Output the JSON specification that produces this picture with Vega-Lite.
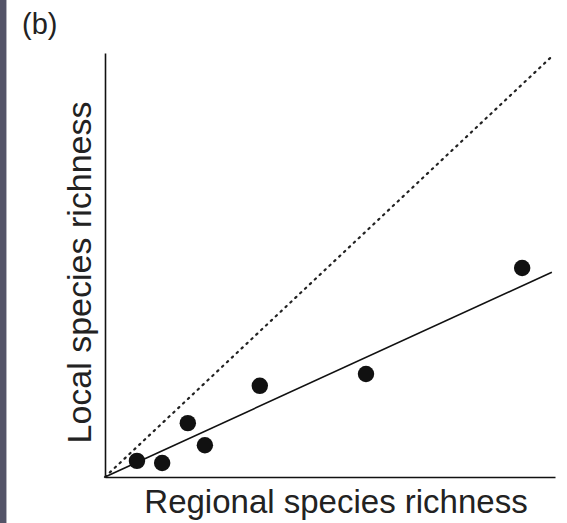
{
  "$schema": "https://vega.github.io/schema/vega-lite/v6.json",
  "width": 450,
  "height": 424,
  "autosize": {"type": "none"},
  "padding": {"left": 105, "top": 53, "right": 12, "bottom": 46},
  "background": "white",
  "title": {"text": "(b)", "anchor": "start", "frame": "group", "dx": -83, "offset": 0, "dy": 69, "baseline": "bottom", "font": "Liberation Sans", "fontSize": 29, "fontWeight": "normal", "color": "#222"},
  "config": {"view": {"stroke": null}},
  "datasets": {
    "points": [
      {"regional": 7.1, "local": 3.8},
      {"regional": 12.7, "local": 3.3},
      {"regional": 18.4, "local": 12.7},
      {"regional": 22.2, "local": 7.5},
      {"regional": 34.4, "local": 21.5},
      {"regional": 58.0, "local": 24.3},
      {"regional": 92.7, "local": 49.3}
    ],
    "oneToOne": [
      {"regional": 0, "local": 0},
      {"regional": 99.7, "local": 99.6}
    ],
    "fit": [
      {"regional": 0, "local": 0},
      {"regional": 99.3, "local": 48.3}
    ],
    "strip": [
      {"x": -23.4, "x2": -21.9, "y": -12, "y2": 112.5}
    ]
  },
  "layer": [
    {
      "data": {"name": "strip"},
      "mark": {"type": "rect", "color": "#545468", "clip": false},
      "encoding": {
        "x": {"field": "x", "type": "quantitative", "scale": {"domain": [0, 100]}},
        "x2": {"field": "x2"},
        "y": {"field": "y", "type": "quantitative", "scale": {"domain": [0, 100]}},
        "y2": {"field": "y2"}
      }
    },
    {
      "data": {"name": "oneToOne"},
      "mark": {"type": "line", "color": "#222", "strokeWidth": 2.2, "strokeDash": [1.5, 5.2], "strokeCap": "round"},
      "encoding": {
        "x": {"field": "regional", "type": "quantitative"},
        "y": {"field": "local", "type": "quantitative"}
      }
    },
    {
      "data": {"name": "fit"},
      "mark": {"type": "line", "color": "#111", "strokeWidth": 1.6},
      "encoding": {
        "x": {"field": "regional", "type": "quantitative"},
        "y": {"field": "local", "type": "quantitative"}
      }
    },
    {
      "data": {"name": "points"},
      "mark": {"type": "circle", "color": "#111", "opacity": 1, "size": 270},
      "encoding": {
        "x": {"field": "regional", "type": "quantitative", "scale": {"domain": [0, 100]},
          "axis": {"title": "Regional species richness", "labels": false, "ticks": false, "grid": false, "domainColor": "#111", "domainWidth": 1.6, "titleFont": "Liberation Sans", "titleFontSize": 33, "titleFontWeight": "normal", "titleColor": "#222", "titlePadding": 9, "titleX": 230.5}},
        "y": {"field": "local", "type": "quantitative", "scale": {"domain": [0, 100]},
          "axis": {"title": "Local species richness", "labels": false, "ticks": false, "grid": false, "domainColor": "#111", "domainWidth": 1.6, "titleFont": "Liberation Sans", "titleFontSize": 34, "titleFontWeight": "normal", "titleColor": "#222", "titlePadding": 8, "titleY": 219}}
      }
    }
  ]
}
